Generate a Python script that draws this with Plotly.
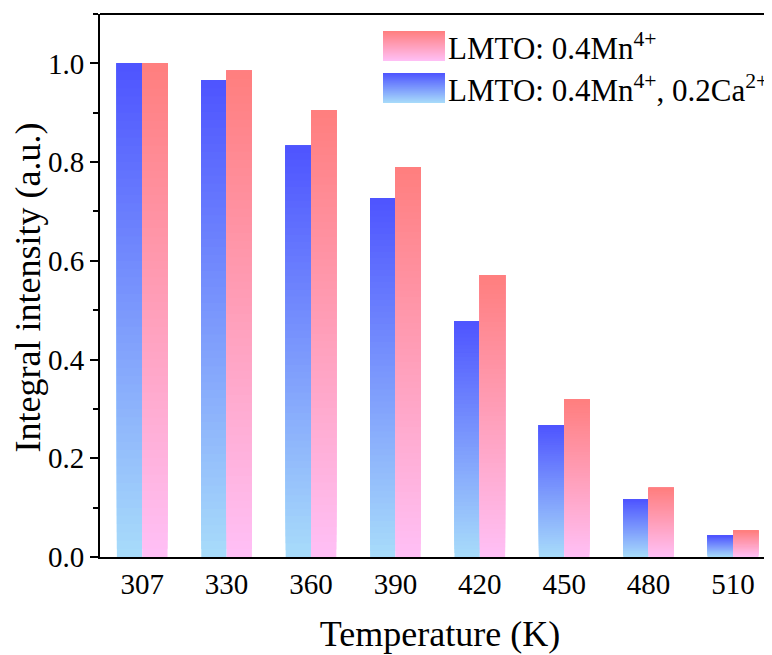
import plotly.graph_objects as go

temperatures = ["307", "330", "360", "390", "420", "450", "480", "510"]
mn_ca_values = [1.000, 0.966, 0.833, 0.727, 0.477, 0.267, 0.117, 0.043]
mn_values = [1.000, 0.985, 0.905, 0.790, 0.571, 0.319, 0.140, 0.053]

series_names = ["LMTO: 0.4Mn<sup>4+</sup>", "LMTO: 0.4Mn<sup>4+</sup>, 0.2Ca<sup>2+</sup>"]

BLUE_TOP = (78, 84, 255)
BLUE_BOT = (168, 220, 250)
PINK_TOP = (255, 126, 126)
PINK_BOT = (255, 192, 246)
N = 60


def mix(top, bot, t):
    # t=0 -> bottom, t=1 -> top
    return "rgb({},{},{})".format(*[round(b + (a - b) * t) for a, b in zip(top, bot)])


fig = go.Figure()


def add_gradient_bars(values, top, bot, group):
    for k in range(N):
        frac = k / N
        fig.add_trace(go.Bar(
            x=temperatures,
            y=[v * (1 - frac) for v in values],
            base=[v * frac for v in values],
            offsetgroup=group,
            marker=dict(color=mix(top, bot, (k + 0.5) / N), line=dict(width=0)),
            showlegend=False,
            hoverinfo="skip",
        ))


add_gradient_bars(mn_ca_values, BLUE_TOP, BLUE_BOT, "a")
add_gradient_bars(mn_values, PINK_TOP, PINK_BOT, "b")

# layout geometry (figure pixel coordinates)
W, H = 772, 655
ml, mr, mt, mb = 92, 0, 6, 106
pw, ph = W - ml - mr, H - mt - mb


def px_to_paper(x, y):
    return (x - ml) / pw, (H - mb - y) / ph


# custom legend with gradient swatches
shapes = []
def swatch(x0, y0, x1, y1, top, bot):
    M = 30
    for k in range(M):
        ya = y1 - (y1 - y0) * k / M
        yb = y1 - (y1 - y0) * (k + 1) / M - 0.6
        px0, py0 = px_to_paper(x0, ya)
        px1, py1 = px_to_paper(x1, max(yb, y0))
        shapes.append(dict(type="rect", xref="paper", yref="paper",
                           x0=px0, x1=px1, y0=py0, y1=py1,
                           fillcolor=mix(top, bot, (k + 0.5) / M), line=dict(width=0), layer="above"))

swatch(375, 23, 437, 53, PINK_TOP, PINK_BOT)
swatch(375, 65, 437, 95, BLUE_TOP, BLUE_BOT)

annotations = []
for (label, ycen) in [(series_names[0], 39), (series_names[1], 81)]:
    ax, ay = px_to_paper(438, ycen)
    annotations.append(dict(text=label, xref="paper", yref="paper", x=ax, y=ay,
                            xanchor="left", yanchor="middle", showarrow=False,
                            font=dict(family="Liberation Serif", size=31, color="black")))

# y-axis title
tx, ty = px_to_paper(19, (6 + 549) / 2 + 2)
annotations.append(dict(text="Integral intensity (a.u.)", xref="paper", yref="paper",
                        x=tx, y=ty, xanchor="center", yanchor="middle", textangle=-90,
                        showarrow=False, font=dict(family="Liberation Serif", size=36, color="black")))

fig.update_layout(
    width=W, height=H,
    margin=dict(l=ml, r=mr, t=mt, b=mb, autoexpand=False),
    plot_bgcolor="white", paper_bgcolor="white",
    barmode="group", bargap=0.4, bargroupgap=0,
    font=dict(family="Liberation Serif", size=28, color="black"),
    shapes=shapes, annotations=annotations,
    showlegend=False,
)
fig.update_xaxes(
    type="category", range=[-0.5, 7.557], automargin=False,
    showline=True, linecolor="black", linewidth=2, mirror=False,
    ticks="", tickfont=dict(size=29),
    title=dict(text="Temperature (K)", font=dict(size=36), standoff=22),
    showgrid=False, zeroline=False,
)
fig.update_yaxes(
    range=[0, 1.1], dtick=0.2, tickformat=".1f", automargin=False,
    showline=True, linecolor="black", linewidth=2,
    ticks="outside", ticklen=8, tickwidth=2, tickcolor="black",
    minor=dict(dtick=0.1, ticks="outside", ticklen=5, tickwidth=2, tickcolor="black"),
    tickfont=dict(size=29),
    showgrid=False, zeroline=False,
)
# top frame line
fig.add_shape(type="line", xref="paper", yref="paper", x0=0, x1=1, y0=1, y1=1,
              line=dict(color="black", width=2))

fig.write_html("out.html")
